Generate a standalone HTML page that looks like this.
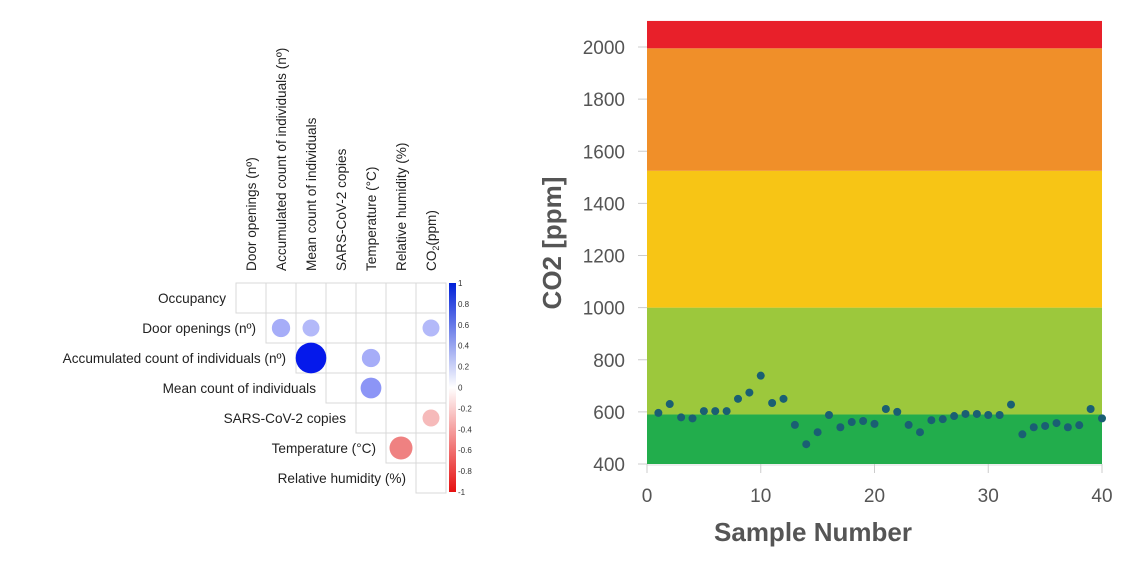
<!DOCTYPE html>
<html><head><meta charset="utf-8"><style>
html,body{margin:0;padding:0;background:#fff;}
svg{display:block;font-family:"Liberation Sans",Arial,sans-serif;}
</style></head><body>
<svg id="root" width="1132" height="571" viewBox="0 0 1132 571">
<g id="corr"></g>
<g id="co2"></g>
</svg>
<script>
const NS="http://www.w3.org/2000/svg";
function mk(tag,attrs,parent,text){const e=document.createElementNS(NS,tag);for(const k in attrs)e.setAttribute(k,attrs[k]);if(text!==undefined)e.textContent=text;parent.appendChild(e);return e;}

// ---------- Correlation plot data ----------
const rowLabels=["Occupancy","Door openings (nº)","Accumulated count of individuals (nº)","Mean count of individuals","SARS-CoV-2 copies","Temperature (°C)","Relative humidity (%)"];
const colLabels=["Door openings (nº)","Accumulated count of individuals (nº)","Mean count of individuals","SARS-CoV-2 copies","Temperature (°C)","Relative humidity (%)","CO2(ppm)"];
const corrCells=[ // [row, col, r]
 [1,1,0.35],[1,2,0.3],[1,6,0.3],
 [2,2,0.98],[2,4,0.35],
 [3,4,0.45],
 [4,6,-0.3],
 [5,5,-0.55]
];
const cbTicks=[1,0.8,0.6,0.4,0.2,0,-0.2,-0.4,-0.6,-0.8,-1];

(function(){
 const g=document.getElementById('corr');
 const x0=236,y0=283,cw=30;
 function colr(r){const a=Math.abs(r);
  if(r>=0){return `rgb(${Math.round(255-a*255)},${Math.round(255-a*235)},${Math.round(255-a*20)})`;}
  return `rgb(${Math.round(255-a*30)},${Math.round(255-a*230)},${Math.round(255-a*230)})`;}
 for(let i=0;i<7;i++){
  for(let j=i;j<7;j++){
   const c=mk('rect',{x:x0+j*cw,y:y0+i*cw,width:cw,height:cw,fill:'#fff',stroke:'#d9d9d9','stroke-width':1},g);
   
   
  }
  const t=mk('text',{x:x0+i*cw-10,y:y0+i*cw+cw/2+5,'text-anchor':'end','font-size':13.6,fill:'#222'},g,rowLabels[i]);
  
  
 }
 colLabels.forEach((l,j)=>{
  const cx=x0+j*cw+cw/2+5, cy=271;
  const t=mk('text',{x:cx,y:cy,transform:`rotate(-90 ${cx} ${cy})`,'font-size':13.6,fill:'#222'},g);
  
  
  if(l==="CO2(ppm)"){t.textContent="CO";mk('tspan',{'font-size':9,dy:3},t,"2");mk('tspan',{dy:-3},t,"(ppm)");}
  else t.textContent=l;
 });
 corrCells.forEach(([i,j,r])=>{
  const c=mk('circle',{cx:x0+j*cw+cw/2,cy:y0+i*cw+cw/2,r:Math.sqrt(Math.abs(r))*15.5,fill:colr(r)},g);
  
  
 });
 const defs=mk('defs',{},g);
 const lg=mk('linearGradient',{id:'cbg',x1:0,y1:0,x2:0,y2:1},defs);
 mk('stop',{offset:'0','stop-color':'#0020d8'},lg);
 mk('stop',{offset:'0.5','stop-color':'#ffffff'},lg);
 mk('stop',{offset:'1','stop-color':'#e61010'},lg);
 const cbTop=283,cbH=209;
 const cb=mk('rect',{x:449,y:cbTop,width:7,height:cbH,fill:'url(#cbg)'},g);
 
 
 cbTicks.forEach(v=>{
  const y=cbTop+(1-v)/2*cbH;
  const t=mk('text',{x:458,y:y+3,'font-size':8,fill:'#333'},g,String(v));
  
  
 });
})();

// ---------- CO2 scatter data ----------
const bandLimits=[400,590,1000,1525,1995,2100];
const bandColors=["#22ad4c","#9cc83c","#f7c515","#f08f29","#e8202a"];
const yTicks=[400,600,800,1000,1200,1400,1600,1800,2000];
const xTicks=[0,10,20,30,40];
const co2Values=[596,630,579,575,603,603,603,650,674,739,634,650,550,476,522,588,541,561,565,554,611,600,550,522,568,572,584,592,592,588,588,628,514,541,546,557,541,549,611,575];

(function(){
 const g=document.getElementById('co2');
 const X0=647,X1=1102,Ybot=464,Ytop=47;
 const xs=v=>X0+(v-0)/(40-0)*(X1-X0);
 const ys=v=>Ybot-(v-400)/(2000-400)*(Ybot-Ytop);
 for(let i=0;i<bandColors.length;i++){
  const r=mk('rect',{x:X0,y:ys(bandLimits[i+1]),width:X1-X0,height:ys(bandLimits[i])-ys(bandLimits[i+1]),fill:bandColors[i]},g);
  
  
 }
 yTicks.forEach(v=>{
  const l=mk('line',{x1:X0-9,x2:X0,y1:ys(v),y2:ys(v),stroke:'#ccc','stroke-width':1},g);
  
  
  const t=mk('text',{x:625,y:ys(v)+7,'text-anchor':'end','font-size':19,fill:'#555'},g,String(v));
  
  
 });
 const ax=mk('line',{x1:X0,x2:X1,y1:Ybot+1,y2:Ybot+1,stroke:'#ddd','stroke-width':1},g);
 
 
 xTicks.forEach(v=>{
  const l=mk('line',{x1:xs(v),x2:xs(v),y1:Ybot,y2:Ybot+9,stroke:'#ccc','stroke-width':1},g);
  
  
  const t=mk('text',{x:xs(v),y:502,'text-anchor':'middle','font-size':19,fill:'#555'},g,String(v));
  
  
 });
 co2Values.forEach((v,i)=>{
  const c=mk('circle',{cx:xs(i+1),cy:ys(v),r:4,fill:'#1a5f73'},g);
  
  
 });
 const xt=mk('text',{x:813,y:541,'text-anchor':'middle','font-size':26,'font-weight':'bold',fill:'#555'},g,'Sample Number');
 
 
 const yt=mk('text',{x:561,y:243,'text-anchor':'middle','font-size':26,'font-weight':'bold',fill:'#555',transform:'rotate(-90 561 243)'},g,'CO2 [ppm]');
 
 
})();
</script>
</body></html>
